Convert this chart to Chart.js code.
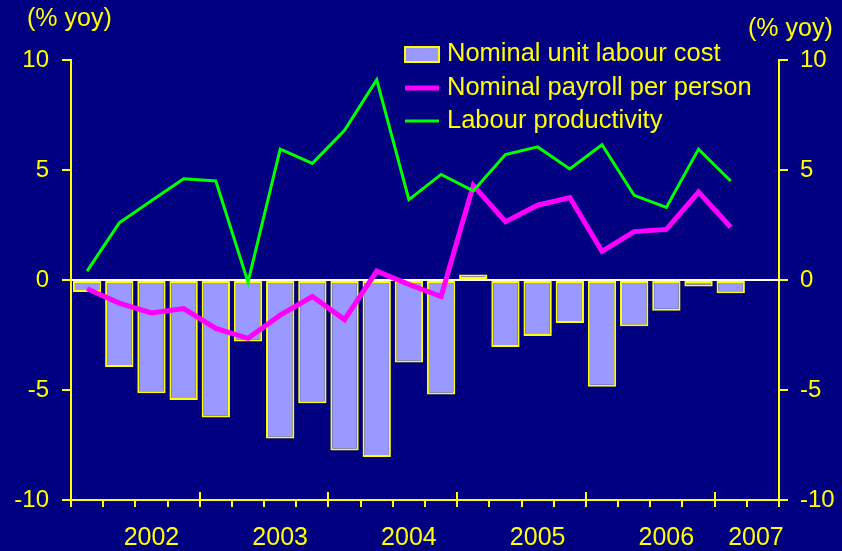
<!DOCTYPE html>
<html>
<head>
<meta charset="utf-8">
<script src="https://cdn.jsdelivr.net/npm/chart.js@4"></script>
<style>
  body { margin: 0; background: #000080; }
  canvas { display: block; }
</style>
</head>
<body>
<canvas id="chart" width="842" height="551"></canvas>
<script>
// ===============================
// DATA
// ===============================

const quarters = [
    '2002Q1', '2002Q2', '2002Q3', '2002Q4',
    '2003Q1', '2003Q2', '2003Q3', '2003Q4',
    '2004Q1', '2004Q2', '2004Q3', '2004Q4',
    '2005Q1', '2005Q2', '2005Q3', '2005Q4',
    '2006Q1', '2006Q2', '2006Q3', '2006Q4',
    '2007Q1', '2007Q2'
];

// year label shown under these category slots
// (trailing spaces nudge the last one left, like the original)
const yearLabels = { 2: '2002', 6: '2003', 10: '2004', 14: '2005', 18: '2006', 21: '2007  ' };

const unitLabourCost = [
    -0.55, -3.95, -5.15, -5.45, -6.25, -2.8, -7.2, -5.6, -7.75, -8.05,
    -3.75, -5.2, 0.25, -3.05, -2.55, -1.95, -4.85, -2.1, -1.4, -0.3, -0.6
];

const payrollPerPerson = [
    -0.4, -1.05, -1.5, -1.3, -2.2, -2.65, -1.6, -0.75, -1.8, 0.4,
    -0.2, -0.75, 4.3, 2.65, 3.4, 3.75, 1.3, 2.2, 2.3, 4.0, 2.4
];

const labourProductivity = [
    0.4, 2.6, 3.6, 4.6, 4.5, -0.1, 5.95, 5.3, 6.8, 9.1,
    3.65, 4.8, 4.05, 5.7, 6.05, 5.05, 6.15, 3.85, 3.3, 5.95, 4.5
];

const legendNames = ['Nominal unit labour cost', 'Nominal payroll per person', 'Labour productivity'];

const YELLOW = '#ffff00';
const FONT = '"Liberation Sans", Arial, sans-serif';


// ===============================
// PLUGINS
// ===============================

// white zero line, painted right after the bars
const zeroLine = {
    id: 'zeroLine',
    afterDatasetDraw(chart, args) {
        if (args.index !== 0) return;
        const y = chart.scales.y.getPixelForValue(0);
        const ctx = chart.ctx;
        ctx.save();
        ctx.strokeStyle = '#ffffff';
        ctx.lineWidth = 2;
        ctx.beginPath();
        ctx.moveTo(chart.chartArea.left, y);
        ctx.lineTo(chart.chartArea.right, y);
        ctx.stroke();
        ctx.restore();
    }
};

// quarter / year ticks on the time axis + titles + legend
const decorations = {
    id: 'decorations',
    afterDraw(chart) {
        const ctx = chart.ctx;
        const x = chart.scales.x;
        const yb = x.top;
        const half = (x.getPixelForValue(1) - x.getPixelForValue(0)) / 2;

        ctx.save();
        ctx.strokeStyle = YELLOW;
        ctx.lineWidth = 2;
        for (let i = 0; i <= quarters.length; i++) {
            const px = Math.round(x.getPixelForValue(i) - half);
            const major = (i % 4 === 0) || i === quarters.length;
            ctx.beginPath();
            ctx.moveTo(px, major ? yb - 8 : yb);
            ctx.lineTo(px, yb + 7);
            ctx.stroke();
        }

        // axis titles
        ctx.fillStyle = YELLOW;
        ctx.font = '25px ' + FONT;
        ctx.textBaseline = 'middle';
        ctx.textAlign = 'left';
        ctx.fillText('(% yoy)', 27, 19);
        ctx.fillText('(% yoy)', 748, 29);

        // legend
        const lx = 405, tx = 447;
        const rows = [54, 88, 121];
        ctx.fillStyle = '#9999ff';
        ctx.fillRect(lx, rows[0] - 7, 34, 15);
        ctx.strokeStyle = YELLOW;
        ctx.lineWidth = 2;
        ctx.strokeRect(lx, rows[0] - 7, 34, 15);

        ctx.strokeStyle = '#ff00ff';
        ctx.lineWidth = 5;
        ctx.beginPath();
        ctx.moveTo(lx, rows[1]);
        ctx.lineTo(lx + 34, rows[1]);
        ctx.stroke();

        ctx.strokeStyle = '#00ff00';
        ctx.lineWidth = 3;
        ctx.beginPath();
        ctx.moveTo(lx, rows[2]);
        ctx.lineTo(lx + 34, rows[2]);
        ctx.stroke();

        ctx.fillStyle = YELLOW;
        ctx.font = '25.5px ' + FONT;
        legendNames.forEach((name, i) => ctx.fillText(name, tx, rows[i]));
        ctx.restore();
    }
};


// ===============================
// CHART
// ===============================

const yTicks = {
    color: YELLOW,
    font: { family: FONT, size: 24 },
    stepSize: 5,
    callback: v => String(v)
};

new Chart(document.getElementById('chart'), {
    type: 'bar',
    data: {
        labels: quarters,
        datasets: [
            {
                type: 'bar',
                label: legendNames[0],
                data: unitLabourCost,
                backgroundColor: '#9999ff',
                borderColor: YELLOW,
                borderWidth: 2,
                borderSkipped: false,
                categoryPercentage: 1,
                barPercentage: 0.88,
                yAxisID: 'y',
                order: 3
            },
            {
                type: 'line',
                label: legendNames[1],
                data: payrollPerPerson,
                borderColor: '#ff00ff',
                borderWidth: 5,
                pointRadius: 0,
                tension: 0,
                yAxisID: 'y',
                order: 2
            },
            {
                type: 'line',
                label: legendNames[2],
                data: labourProductivity,
                borderColor: '#00ff00',
                borderWidth: 3,
                pointRadius: 0,
                tension: 0,
                yAxisID: 'y',
                order: 1
            }
        ]
    },
    options: {
        responsive: false,
        animation: false,
        devicePixelRatio: 1,
        layout: { padding: { top: 60 } },
        plugins: {
            legend: { display: false },
            tooltip: { enabled: false }
        },
        scales: {
            x: {
                offset: true,
                grid: { display: false, drawTicks: false },
                border: { color: YELLOW, width: 2 },
                ticks: {
                    color: YELLOW,
                    font: { family: FONT, size: 25 },
                    autoSkip: false,
                    maxRotation: 0,
                    padding: 23,
                    callback: (v, i) => yearLabels[i] || ''
                },
                afterFit: s => { s.height = 51; }
            },
            y: {
                position: 'left',
                min: -10,
                max: 10,
                grid: { drawOnChartArea: false, tickLength: 9, tickColor: YELLOW, lineWidth: 2 },
                border: { color: YELLOW, width: 2 },
                ticks: Object.assign({ padding: 13 }, yTicks),
                afterFit: s => { s.width = 71; }
            },
            y2: {
                position: 'right',
                min: -10,
                max: 10,
                grid: { drawOnChartArea: false, tickLength: 9, tickColor: YELLOW, lineWidth: 2 },
                border: { color: YELLOW, width: 2 },
                ticks: Object.assign({ padding: 12 }, yTicks),
                afterFit: s => { s.width = 63; }
            }
        }
    },
    plugins: [zeroLine, decorations]
});
</script>
</body>
</html>
